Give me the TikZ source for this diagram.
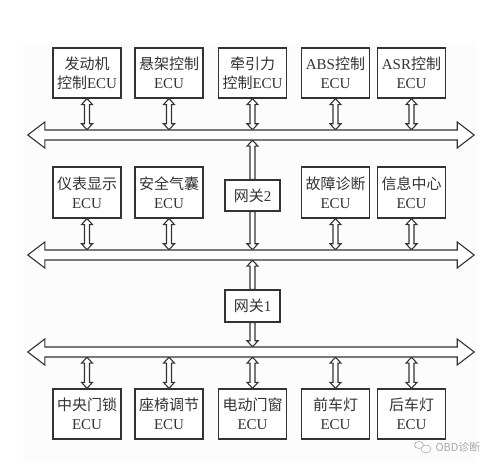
\documentclass[tikz,border=0pt]{standalone}
\usepackage{fontspec}
\setmainfont{Liberation Serif}
\newfontfamily\cjk{Noto Sans CJK SC}
\usetikzlibrary{calc}
\definecolor{ink}{HTML}{333333}
\definecolor{wm}{HTML}{A8A8A8}
\tikzset{
  x=1pt, y=1pt,
  ecubox/.style={draw=ink, line width=1.3pt, fill=white, minimum width=68pt, minimum height=50pt,
    inner sep=0pt, align=center, text=ink, font=\fontsize{15}{19}\selectfont},
  gwbox/.style={draw=ink, line width=1.3pt, fill=white, minimum width=55pt, minimum height=31pt,
    inner sep=0pt, text=ink, font=\fontsize{15}{19}\selectfont},
  busline/.style={inner sep=0pt, minimum width=412pt, minimum height=10pt},
  harrow/.style={draw=ink, line width=1.1pt, fill=white, line join=miter},
}
% double-headed vertical hollow arrow from #1 (top) to #2 (bottom)
\newcommand\dvarrow[2]{%
  \draw[harrow] let \p1=(#1), \p2=(#2) in
    (\x1,\y1) -- (\x1+5.5pt,\y1-6pt) -- (\x1+2.5pt,\y1-6pt) -- (\x1+2.5pt,\y2+6pt)
    -- (\x1+5.5pt,\y2+6pt) -- (\x1,\y2) -- (\x1-5.5pt,\y2+6pt) -- (\x1-2.5pt,\y2+6pt)
    -- (\x1-2.5pt,\y1-6pt) -- (\x1-5.5pt,\y1-6pt) -- cycle;}
% single-headed vertical hollow arrow, tail at #1, head at #2 (pointing down)
\newcommand\downarrowh[2]{%
  \draw[harrow] let \p1=(#1), \p2=(#2) in
    (\x1-2.5pt,\y1) -- (\x1-2.5pt,\y2+6pt) -- (\x1-5.5pt,\y2+6pt) -- (\x1,\y2)
    -- (\x1+5.5pt,\y2+6pt) -- (\x1+2.5pt,\y2+6pt) -- (\x1+2.5pt,\y1) -- cycle;}
% single-headed, tail at #1 (below), head at #2 (pointing up)
\newcommand\uparrowh[2]{%
  \draw[harrow] let \p1=(#1), \p2=(#2) in
    (\x1-2.5pt,\y1) -- (\x1-2.5pt,\y2-6pt) -- (\x1-5.5pt,\y2-6pt) -- (\x1,\y2)
    -- (\x1+5.5pt,\y2-6pt) -- (\x1+2.5pt,\y2-6pt) -- (\x1+2.5pt,\y1) -- cycle;}
% bus: double-headed horizontal hollow arrow around node #1
\newcommand\busarrow[1]{%
  \draw[harrow] let \p1=(#1.west), \p2=(#1.east) in
    (\x1-17pt,\y1) -- (\x1,\y1+13pt) -- (\x1,\y1+5pt) -- (\x2,\y1+5pt) -- (\x2,\y1+13pt)
    -- (\x2+17pt,\y1) -- (\x2,\y1-13pt) -- (\x2,\y1-5pt) -- (\x1,\y1-5pt) -- (\x1,\y1-13pt) -- cycle;}
\begin{document}
\begin{tikzpicture}
\useasboundingbox (0,0) rectangle (504,-470);
\fill[fill=black!1] (23,-43) rectangle (477,-462);

% buses
\node[busline] (bus1) at (251,-135) {};
\node[busline] (bus2) at (251,-255) {};
\node[busline] (bus3) at (251,-352) {};

% top row
\node[ecubox] (t1) at (87,-73)    {\cjk 发动机\\{\cjk 控制}ECU};
\node[ecubox] (t2) at (169,-73)   {\cjk 悬架控制\\ECU};
\node[ecubox] (t3) at (252.5,-73) {\cjk 牵引力\\{\cjk 控制}ECU};
\node[ecubox] (t4) at (335.5,-73) {ABS{\cjk 控制}\\ECU};
\node[ecubox] (t5) at (411.5,-73) {ASR{\cjk 控制}\\ECU};

% middle row
\node[ecubox, minimum height=51pt] (m1) at (87,-192.5)    {\cjk 仪表显示\\ECU};
\node[ecubox, minimum height=51pt] (m2) at (169,-192.5)   {\cjk 安全气囊\\ECU};
\node[gwbox] (g2) at (252.5,-195.5) {{\cjk 网关}2};
\node[ecubox, minimum height=51pt] (m4) at (335.5,-192.5) {\cjk 故障诊断\\ECU};
\node[ecubox, minimum height=51pt] (m5) at (411.5,-192.5) {\cjk 信息中心\\ECU};

% gateway 1
\node[gwbox, minimum height=32pt] (g1) at (252.5,-306) {{\cjk 网关}1};

% bottom row
\node[ecubox] (b1) at (87,-414)    {\cjk 中央门锁\\ECU};
\node[ecubox] (b2) at (169,-414)   {\cjk 座椅调节\\ECU};
\node[ecubox] (b3) at (252.5,-414) {\cjk 电动门窗\\ECU};
\node[ecubox] (b4) at (335.5,-414) {\cjk 前车灯\\ECU};
\node[ecubox] (b5) at (411.5,-414) {\cjk 后车灯\\ECU};

% connectors
\foreach \nm in {t1,t2,t3,t4,t5} { \dvarrow{\nm.south}{\nm.south |- bus1.north} }
\foreach \nm in {m1,m2,m4,m5} { \dvarrow{\nm.south}{\nm.south |- bus2.north} }
\foreach \nm in {b1,b2,b3,b4,b5} { \dvarrow{\nm.north |- bus3.south}{\nm.north} }
\uparrowh{g2.north}{g2.north |- bus1.south}
\downarrowh{g2.south}{g2.south |- bus2.north}
\uparrowh{g1.north}{g1.north |- bus2.south}
\downarrowh{g1.south}{g1.south |- bus3.north}

\busarrow{bus1}
\busarrow{bus2}
\busarrow{bus3}

% watermark
\node[text=wm, font=\cjk\fontsize{11}{13}\selectfont, inner sep=0pt] (wmk) at (458,-447) {OBD诊断};
\draw[wm, line width=0.6pt] (419,-445) ellipse (4.5pt and 3.5pt);
\draw[wm, line width=0.6pt, fill=white] (426,-449) ellipse (5pt and 4pt);
\end{tikzpicture}
\end{document}
